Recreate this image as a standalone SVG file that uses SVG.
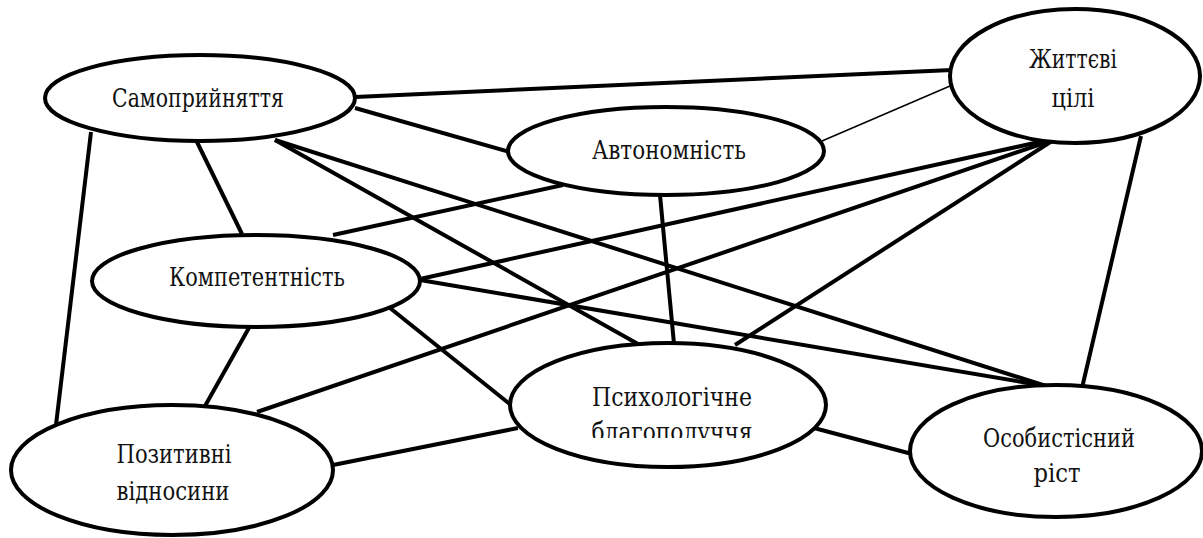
<svg xmlns="http://www.w3.org/2000/svg" width="1203" height="538" viewBox="0 0 1203 538">
<style>
.n ellipse{fill:#fff;stroke:#000;stroke-width:4}
.n text{font-family:"DejaVu Serif","Liberation Serif",serif;font-size:26px;fill:#111;text-anchor:middle}
#edges line{stroke:#000;stroke-width:4;stroke-linecap:butt}
#edges line.thin{stroke-width:1.5}
</style>
<defs>
<clipPath id="clipBlago"><rect x="500" y="380" width="340" height="58"/></clipPath>
</defs>
<rect width="1203" height="538" fill="#fff"/>
<g id="edges">
<line x1="355" y1="97" x2="952" y2="70"/>
<line x1="355" y1="108" x2="510" y2="152"/>
<line class="thin" x1="822" y1="141" x2="950" y2="86"/>
<line x1="91" y1="132" x2="56" y2="425"/>
<line x1="197" y1="142" x2="242" y2="234"/>
<line x1="275" y1="140" x2="638" y2="344"/>
<line x1="275" y1="140" x2="1046" y2="386"/>
<line x1="333" y1="235" x2="563" y2="185"/>
<line x1="420" y1="279" x2="1048" y2="140"/>
<line x1="420" y1="280" x2="1046" y2="386"/>
<line x1="390" y1="308" x2="511" y2="405"/>
<line x1="250" y1="326" x2="205" y2="406"/>
<line x1="257" y1="412" x2="1050" y2="141"/>
<line x1="735" y1="345" x2="1052" y2="141"/>
<line x1="333" y1="465" x2="518" y2="428"/>
<line x1="660" y1="195" x2="674" y2="344"/>
<line x1="814" y1="428" x2="912" y2="454"/>
<line x1="1141" y1="136" x2="1082" y2="388"/>
</g>
<g id="n-samopryiniattia" class="n">
<ellipse cx="200" cy="98" rx="155" ry="43"/>
<text x="198" y="107" textLength="172" lengthAdjust="spacingAndGlyphs">Самоприйняття</text>
</g>
<g id="n-avtonomnist" class="n">
<ellipse cx="666" cy="151" rx="158" ry="44"/>
<text x="669" y="159" textLength="154" lengthAdjust="spacingAndGlyphs">Автономність</text>
</g>
<g id="n-zhyttievi" class="n">
<ellipse cx="1075" cy="76" rx="125" ry="67"/>
<text x="1073" y="68" textLength="88" lengthAdjust="spacingAndGlyphs">Життєві</text>
<text x="1073" y="107" textLength="43" lengthAdjust="spacingAndGlyphs">цілі</text>
</g>
<g id="n-kompetentnist" class="n">
<ellipse cx="256" cy="281" rx="164" ry="46"/>
<text x="257" y="286" textLength="176" lengthAdjust="spacingAndGlyphs">Компетентність</text>
</g>
<g id="n-pozytyvni" class="n">
<ellipse cx="172" cy="470" rx="161" ry="65"/>
<text x="174" y="463" textLength="115" lengthAdjust="spacingAndGlyphs">Позитивні</text>
<text x="173" y="500" textLength="113" lengthAdjust="spacingAndGlyphs">відносини</text>
</g>
<g id="n-psykholohichne" class="n">
<ellipse cx="668" cy="405" rx="158" ry="62"/>
<text x="672" y="406" textLength="160" lengthAdjust="spacingAndGlyphs">Психологічне</text>
<text x="672" y="441" textLength="161" lengthAdjust="spacingAndGlyphs" clip-path="url(#clipBlago)">благополуччя</text>
</g>
<g id="n-osobystisnyi" class="n">
<ellipse cx="1056" cy="451" rx="146" ry="66"/>
<text x="1059" y="447" textLength="152" lengthAdjust="spacingAndGlyphs">Особистісний</text>
<text x="1057" y="482" textLength="47" lengthAdjust="spacingAndGlyphs">ріст</text>
</g>
</svg>
